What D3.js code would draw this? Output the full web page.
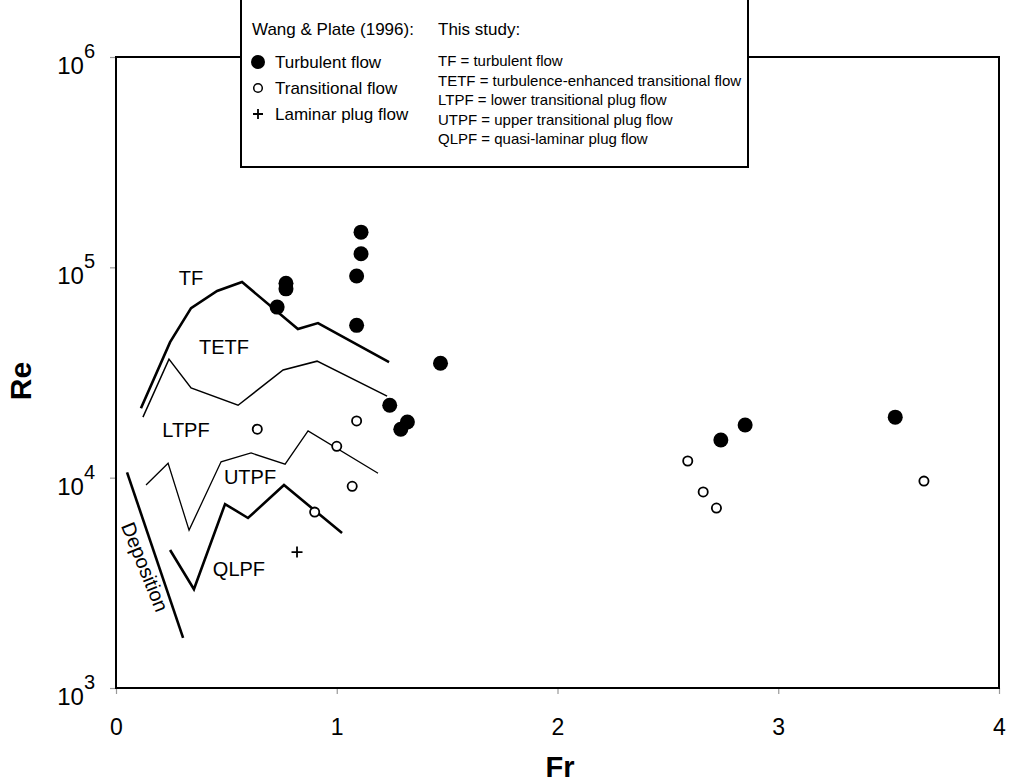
<!DOCTYPE html>
<html>
<head>
<meta charset="utf-8">
<script src="https://cdn.jsdelivr.net/npm/d3@7"></script>
<style>
  html, body { margin: 0; padding: 0; background: #fff; }
  svg { display: block; font-family: "Liberation Sans", Arial, sans-serif; }
</style>
</head>
<body>
<svg id="chart" width="1010" height="784"></svg>
<script>
// Wang & Plate (1996) measurements
const turbulentFr = [0.73, 0.77, 0.77, 1.09, 1.09, 1.11, 1.11, 1.47, 1.24, 1.29, 1.32, 2.74, 2.85, 3.53];
const turbulentRe = [64700, 84000, 79000, 53000, 91000, 116000, 147000, 35000, 22100, 17000, 18400, 15100, 17800, 19400];

const transitionalFr = [0.64, 1.09, 1.00, 1.07, 0.90, 2.59, 2.66, 2.72, 3.66];
const transitionalRe = [17000, 18600, 14100, 9100, 6860, 12000, 8550, 7170, 9630];

const laminarFr = [0.82];
const laminarRe = [4430];

// Regime boundaries from this study
const tfBoundaryFr = [0.113, 0.245, 0.340, 0.458, 0.571, 0.824, 0.915, 1.237];
const tfBoundaryRe = [21400, 44100, 64000, 77200, 85100, 50900, 54300, 35400];

const tetfBoundaryFr = [0.122, 0.240, 0.340, 0.553, 0.757, 0.911, 1.228];
const tetfBoundaryRe = [19400, 36600, 26700, 22100, 32500, 35800, 24400];

const ltpfBoundaryFr = [0.136, 0.236, 0.331, 0.476, 0.612, 0.766, 0.870, 1.187];
const ltpfBoundaryRe = [9230, 11700, 5630, 11900, 13100, 11600, 16700, 10500];

const qlpfBoundaryFr = [0.245, 0.353, 0.494, 0.598, 0.761, 1.024];
const qlpfBoundaryRe = [4530, 2950, 7490, 6430, 9230, 5450];

const depositionFr = [0.050, 0.304];
const depositionRe = [10600, 1730];

// Axis ticks
const xTicks = [0, 1, 2, 3, 4];
const yTickExponents = [3, 4, 5, 6];

// Regime labels placed in data space (text baseline)
const regimeLabels = [
  { text: "TF",   fr: 0.34,  re: 82400 },
  { text: "TETF", fr: 0.489, re: 38700 },
  { text: "LTPF", fr: 0.317, re: 15600 },
  { text: "UTPF", fr: 0.607, re: 9330 },
  { text: "QLPF", fr: 0.557, re: 3400 }
];

const legendLeft = ["Turbulent flow", "Transitional flow", "Laminar plug flow"];
const legendRight = [
  "TF = turbulent flow",
  "TETF = turbulence-enhanced transitional flow",
  "LTPF = lower transitional plug flow",
  "UTPF = upper transitional plug flow",
  "QLPF = quasi-laminar plug flow"
];

const svg = d3.select("#chart");
const plot = { left: 116, right: 999, top: 57, bottom: 688 };

const x = d3.scaleLinear().domain([0, 4]).range([plot.left, plot.right]);
const y = d3.scaleLog().domain([1e3, 1e6]).range([plot.bottom, plot.top]);

svg.append("rect").attr("width", 1010).attr("height", 784).attr("fill", "#fff");

// Axes with small outward ticks
const xAxis = svg.append("g")
  .attr("transform", `translate(0,${plot.bottom})`)
  .call(d3.axisBottom(x).tickValues(xTicks).tickSize(6).tickFormat(""));
const yAxis = svg.append("g")
  .attr("transform", `translate(${plot.left},0)`)
  .call(d3.axisLeft(y).tickValues(yTickExponents.map(e => Math.pow(10, e))).tickSize(6).tickFormat(""));
[xAxis, yAxis].forEach(g => {
  g.select(".domain").remove();
  g.selectAll(".tick line").attr("stroke", "#999").attr("stroke-width", 1.2);
});

xAxis.selectAll(".tick").append("text")
  .attr("y", 47)
  .attr("text-anchor", "middle")
  .attr("fill", "#000")
  .style("font-size", "23px")
  .style("font-family", "'Liberation Sans', Arial, sans-serif")
  .text(d => d);

yTickExponents.forEach(e => {
  const t = svg.append("text")
    .attr("x", 95)
    .attr("y", y(Math.pow(10, e)) + 17)
    .attr("text-anchor", "end")
    .style("font-size", "24px");
  t.append("tspan").text("10");
  t.append("tspan").attr("dy", -16).style("font-size", "20px").text(e);
});

// Plot frame
svg.append("rect")
  .attr("x", plot.left).attr("y", plot.top)
  .attr("width", plot.right - plot.left).attr("height", plot.bottom - plot.top)
  .attr("fill", "none").attr("stroke", "#000").attr("stroke-width", 2);

// Axis titles
svg.append("text")
  .attr("x", 560).attr("y", 777)
  .attr("text-anchor", "middle")
  .style("font-size", "29px").style("font-weight", "bold")
  .text("Fr");
svg.append("text")
  .attr("transform", "translate(31,381) rotate(-90)")
  .attr("text-anchor", "middle")
  .style("font-size", "30px").style("font-weight", "bold")
  .text("Re");

// Regime boundary lines
const line = d3.line().x(d => x(d[0])).y(d => y(d[1]));
const boundaries = [
  { fr: tfBoundaryFr, re: tfBoundaryRe, w: 2.6 },
  { fr: tetfBoundaryFr, re: tetfBoundaryRe, w: 1.5 },
  { fr: ltpfBoundaryFr, re: ltpfBoundaryRe, w: 1.3 },
  { fr: qlpfBoundaryFr, re: qlpfBoundaryRe, w: 2.6 },
  { fr: depositionFr, re: depositionRe, w: 2.6 }
];
boundaries.forEach(b => {
  svg.append("path")
    .datum(d3.zip(b.fr, b.re))
    .attr("d", line)
    .attr("fill", "none")
    .attr("stroke", "#000")
    .attr("stroke-width", b.w)
    .attr("stroke-linejoin", "miter");
});

// Regime labels
svg.selectAll(".regime")
  .data(regimeLabels)
  .enter().append("text")
  .attr("class", "regime")
  .attr("x", d => x(d.fr))
  .attr("y", d => y(d.re))
  .attr("text-anchor", "middle")
  .style("font-size", "20px")
  .text(d => d.text);

svg.append("text")
  .attr("transform", "translate(145,567) rotate(68)")
  .attr("text-anchor", "middle")
  .attr("dominant-baseline", "central")
  .style("font-size", "20px")
  .text("Deposition");

// Data points
svg.selectAll(".turb")
  .data(d3.zip(turbulentFr, turbulentRe))
  .enter().append("circle")
  .attr("cx", d => x(d[0])).attr("cy", d => y(d[1]))
  .attr("r", 7.5).attr("fill", "#000");

svg.selectAll(".trans")
  .data(d3.zip(transitionalFr, transitionalRe))
  .enter().append("circle")
  .attr("cx", d => x(d[0])).attr("cy", d => y(d[1]))
  .attr("r", 4.6).attr("fill", "#fff").attr("stroke", "#000").attr("stroke-width", 1.8);

const plus = (g, cx, cy, s) => {
  g.append("path")
    .attr("d", `M${cx - s},${cy}H${cx + s}M${cx},${cy - s}V${cy + s}`)
    .attr("stroke", "#000").attr("stroke-width", 1.8).attr("fill", "none");
};
d3.zip(laminarFr, laminarRe).forEach(d => plus(svg, x(d[0]), y(d[1]), 5.5));

// Legend
const lg = svg.append("g");
lg.append("rect")
  .attr("x", 241).attr("y", -2).attr("width", 507).attr("height", 169)
  .attr("fill", "#fff").attr("stroke", "#000").attr("stroke-width", 2);
lg.append("text").attr("x", 252).attr("y", 35).style("font-size", "17px").text("Wang & Plate (1996):");
lg.append("text").attr("x", 438).attr("y", 35).style("font-size", "17px").text("This study:");

const leftRows = [62, 88, 114];
lg.append("circle").attr("cx", 258).attr("cy", leftRows[0]).attr("r", 7).attr("fill", "#000");
lg.append("circle").attr("cx", 258).attr("cy", leftRows[1]).attr("r", 4.3)
  .attr("fill", "#fff").attr("stroke", "#000").attr("stroke-width", 1.5);
plus(lg, 258, leftRows[2], 5);
legendLeft.forEach((t, i) => {
  lg.append("text").attr("x", 275).attr("y", leftRows[i] + 6).style("font-size", "17px").text(t);
});

const rightBaselines = [66, 85.5, 105, 124.5, 144];
legendRight.forEach((t, i) => {
  lg.append("text").attr("x", 438).attr("y", rightBaselines[i]).style("font-size", "15px").text(t);
});
</script>
</body>
</html>
